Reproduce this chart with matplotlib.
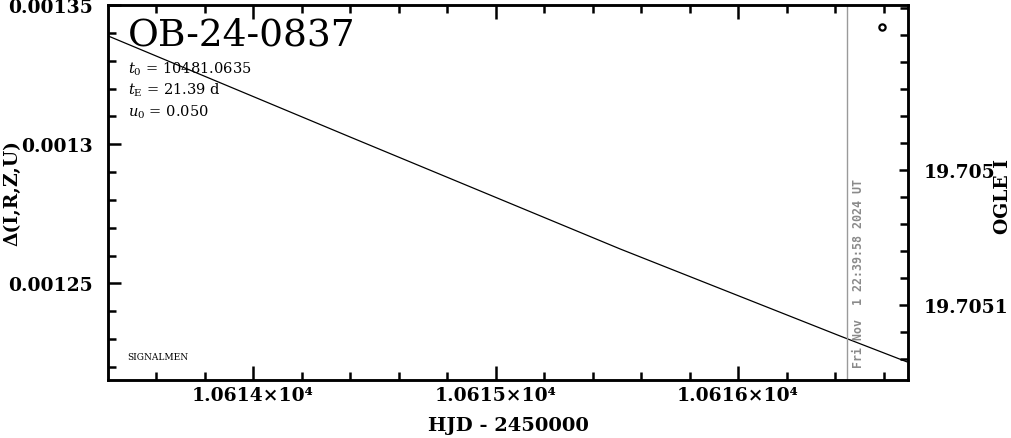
import matplotlib
matplotlib.use("Agg")
import matplotlib.pyplot as plt
from matplotlib.ticker import FixedLocator, MultipleLocator

plt.rcParams['font.family'] = ['DejaVu Serif']
plt.rcParams['mathtext.fontset'] = 'dejavuserif'

# ---- data ----
model_hjd = [10613.402, 10614.400, 10615.513, 10616.421, 10616.697]
model_delta = [0.0013389, 0.0013026, 0.0012624, 0.0012311, 0.0012218]
obs_hjd = [10616.593]
obs_mag = [19.704894]
now_hjd = 10616.451

title = "OB-24-0837"
param_labels = [r"$t_0$ = 10481.0635", r"$t_{\rm E}$ = 21.39 d", r"$u_0$ = 0.050"]
xticks = [10614, 10615, 10616]
xticklabels = ["1.0614×10⁴", "1.0615×10⁴", "1.0616×10⁴"]
lyticks = [0.00125, 0.0013, 0.00135]
lyticklabels = ["0.00125", "0.0013", "0.00135"]
ryticks = [19.705, 19.7051]
ryticklabels = ["19.705", "19.7051"]
date_text = "Fri Nov  1 22:39:58 2024 UT"

W, H = 1011, 439
fig = plt.figure(figsize=(W / 100, H / 100), dpi=100)
ax = fig.add_axes([108 / W, 1 - 381 / H, 800 / W, 375 / H])
ax2 = ax.twinx()

ax.set_xlim(10613.402, 10616.701)
ax.set_ylim(0.0012153, 0.00135)
ax2.set_ylim(19.7051556, 19.7048778)

ax.plot(model_hjd, model_delta, color='black', lw=0.9)
ax.axvline(now_hjd, color='#9a9a9a', lw=1.0)
ax2.plot(obs_hjd, obs_mag, 'o', mfc='none', mec='black', ms=4.5, mew=1.6)

for a in (ax, ax2):
    for s in a.spines.values():
        s.set_linewidth(1.8)

tickfont = dict(family='DejaVu Serif', weight='bold', size=13.5)

ax.xaxis.set_major_locator(FixedLocator(xticks))
ax.xaxis.set_minor_locator(MultipleLocator(0.2))
ax.set_xticklabels(xticklabels, **tickfont)
ax.yaxis.set_major_locator(FixedLocator(lyticks))
ax.yaxis.set_minor_locator(MultipleLocator(0.00001))
ax.set_yticklabels(lyticklabels, **tickfont)
ax.tick_params(axis='x', which='both', direction='in', top=True, bottom=True, width=1.8)
ax.tick_params(axis='x', which='major', length=10, pad=4)
ax.tick_params(axis='x', which='minor', length=5.5)
ax.tick_params(axis='y', which='both', direction='in', left=True, right=False, width=1.8)
ax.tick_params(axis='y', which='major', length=9, pad=11)
ax.tick_params(axis='y', which='minor', length=5.5)

ax2.yaxis.set_major_locator(FixedLocator(ryticks))
ax2.yaxis.set_minor_locator(MultipleLocator(0.00002))
ax2.set_yticklabels(ryticklabels, **tickfont)
ax2.tick_params(axis='y', which='both', direction='in', right=True, left=False, width=1.8)
ax2.tick_params(axis='y', which='major', length=6.5, pad=11)
ax2.tick_params(axis='y', which='minor', length=5.5)

# texts
ax.text((128 - 108) / 800, 1 - (36 - 6) / 375, title, transform=ax.transAxes,
        fontsize=27, ha='left', va='center', family='DejaVu Serif')
for lab, yp in zip(param_labels, [69, 90, 112]):
    ax.text((128 - 108) / 800, 1 - (yp - 6) / 375, lab, transform=ax.transAxes,
            fontsize=10.5, ha='left', va='center')
ax.text((127 - 108) / 800, 1 - (358 - 6) / 375, "SIGNALMEN", transform=ax.transAxes,
        fontsize=6.5, ha='left', va='center')
ax.text(858 / W, 1 - 368 / H, date_text, transform=fig.transFigure, rotation=90,
        color='#8a8a8a', fontsize=8.4, family='DejaVu Sans Mono', weight='bold',
        ha='center', va='bottom')

fig.text(12.5 / W, 1 - 193 / H, "Δ(I,R,Z,U)", rotation=90, ha='center', va='center',
         fontsize=13.5, weight='bold')
fig.text(1003 / W, 1 - 197 / H, "OGLE I", rotation=90, ha='center', va='center',
         fontsize=13.5, weight='bold')
fig.text(508 / W, 1 - 426 / H, "HJD - 2450000", ha='center', va='center',
         fontsize=14, weight='bold')

fig.savefig("out.png", dpi=100)
